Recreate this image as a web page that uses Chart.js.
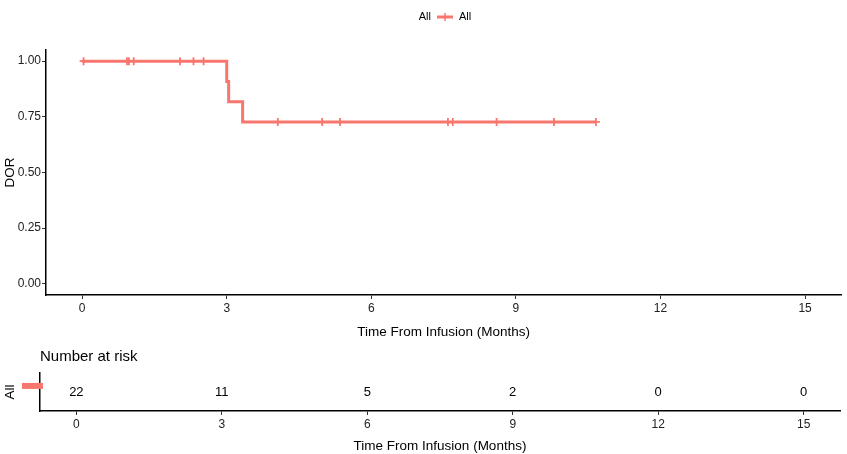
<!DOCTYPE html>
<html>
<head>
<meta charset="utf-8">
<script src="https://cdn.jsdelivr.net/npm/chart.js@4.4.1/dist/chart.umd.min.js"></script>
<style>
  html, body { margin: 0; padding: 0; background: #fff; }
  canvas { display: block; }
</style>
</head>
<body>
<canvas id="km" width="847" height="340"></canvas>
<canvas id="risk" width="847" height="114"></canvas>
<script>
// KM step points (event times) and survival after each step
const stepTimes = [0, 3.0, 3.04, 3.33, 10.66];
const stepSurv = [1, 0.909, 0.818, 0.727, 0.727];
// censored observations
const censorTimes = [0.03, 0.93, 0.97, 1.07, 2.03, 2.31, 2.52, 4.06, 4.98, 5.35, 7.59, 7.69, 8.6, 9.79, 10.66];
const censorSurv = [1, 1, 1, 1, 1, 1, 1, 0.727, 0.727, 0.727, 0.727, 0.727, 0.727, 0.727, 0.727];
const xTicks = [0, 3, 6, 9, 12, 15];
const yTicks = [0, 0.25, 0.5, 0.75, 1];
const riskTimes = [0, 3, 6, 9, 12, 15];
const riskCounts = [22, 11, 5, 2, 0, 0];
const groupName = 'All';

const red = '#F8766D';
const family = "'Liberation Sans', Arial, sans-serif";
const riskRow = 0.66;

function xScale(height) {
  return {
    type: 'linear', min: -0.75, max: 15.75,
    afterBuildTicks: s => { s.ticks = xTicks.map(v => ({ value: v })); },
    grid: { drawOnChartArea: false, tickLength: 4, tickColor: '#333', tickWidth: 1 },
    border: { color: '#000', width: 1.5 },
    ticks: { color: '#222', font: { family, size: 12 }, padding: 2, maxRotation: 0, autoSkip: false },
    title: { display: true, text: 'Time From Infusion (Months)', color: '#000', font: { family, size: 13.5 }, padding: { top: 2, bottom: 0 } },
    afterFit: s => { s.height = height; }
  };
}

const legendPlugin = {
  id: 'kmLegend',
  afterDraw(chart) {
    const ctx = chart.ctx;
    ctx.save();
    ctx.font = '11px ' + family;
    ctx.fillStyle = '#000';
    ctx.textBaseline = 'middle';
    const y = 17;
    const w = ctx.measureText(groupName).width;
    let x = 445 - 8 - 6 - w;
    ctx.fillText(groupName, x, y);
    x += w + 6;
    ctx.strokeStyle = red;
    ctx.lineWidth = 3;
    ctx.beginPath(); ctx.moveTo(x, y); ctx.lineTo(x + 16, y); ctx.stroke();
    ctx.lineWidth = 1.5;
    ctx.beginPath(); ctx.moveTo(x + 8, y - 4); ctx.lineTo(x + 8, y + 4); ctx.stroke();
    ctx.fillText(groupName, x + 22, y);
    ctx.restore();
  }
};

new Chart(document.getElementById('km'), {
  type: 'line',
  data: {
    datasets: [
      {
        label: groupName,
        data: stepTimes.map((t, i) => ({ x: t, y: stepSurv[i] })),
        stepped: true, borderColor: red, borderWidth: 3, pointRadius: 0, fill: false
      },
      {
        type: 'scatter',
        label: 'censor',
        data: censorTimes.map((t, i) => ({ x: t, y: censorSurv[i] })),
        pointStyle: 'cross', pointRadius: 4, borderColor: red, borderWidth: 1.8, showLine: false
      }
    ]
  },
  options: {
    responsive: false, animation: false,
    layout: { padding: { top: 50, right: 0, left: 0, bottom: 0 } },
    plugins: { legend: { display: false }, tooltip: { enabled: false } },
    scales: {
      x: xScale(45),
      y: {
        min: -0.05, max: 1.05,
        afterBuildTicks: s => { s.ticks = yTicks.map(v => ({ value: v })); },
        grid: { drawOnChartArea: false, tickLength: 4, tickColor: '#333', tickWidth: 1 },
        border: { color: '#000', width: 1.5 },
        ticks: { color: '#222', font: { family, size: 12 }, padding: 1, callback: v => v.toFixed(2) },
        title: { display: true, text: 'DOR', color: '#000', font: { family, size: 13.5 }, padding: { top: 2, bottom: 0 } },
        afterFit: s => { s.width = 46; }
      }
    }
  },
  plugins: [legendPlugin]
});

const riskPlugin = {
  id: 'riskTable',
  afterDraw(chart) {
    const ctx = chart.ctx;
    const xs = chart.scales.x, ys = chart.scales.y;
    const rowY = ys.getPixelForValue(riskRow);
    ctx.save();
    ctx.fillStyle = '#000';
    ctx.font = '15px ' + family;
    ctx.textBaseline = 'middle';
    ctx.textAlign = 'left';
    ctx.fillText('Number at risk', 40, 17);
    ctx.font = '13px ' + family;
    ctx.textAlign = 'center';
    riskTimes.forEach((t, i) => {
      ctx.fillText(String(riskCounts[i]), xs.getPixelForValue(t), rowY + 7);
    });
    ctx.fillStyle = red;
    ctx.fillRect(22, rowY - 3, 21, 6);
    ctx.restore();
  }
};

new Chart(document.getElementById('risk'), {
  type: 'scatter',
  data: { datasets: [{ label: groupName, data: riskTimes.map(t => ({ x: t, y: riskRow })), pointRadius: 0 }] },
  options: {
    responsive: false, animation: false,
    layout: { padding: { top: 33, right: 7, left: 0, bottom: 0 } },
    plugins: { legend: { display: false }, tooltip: { enabled: false } },
    scales: {
      x: xScale(43),
      y: {
        min: 0, max: 1,
        afterBuildTicks: s => { s.ticks = [{ value: riskRow }]; },
        grid: { drawOnChartArea: false, tickLength: 4, tickColor: '#333', tickWidth: 1 },
        border: { color: '#000', width: 1.5 },
        ticks: { display: false },
        title: { display: true, text: groupName, color: '#000', font: { family, size: 13.5 }, padding: { top: 2, bottom: 0 } },
        afterFit: s => { s.width = 40; }
      }
    }
  },
  plugins: [riskPlugin]
});
</script>
</body>
</html>
